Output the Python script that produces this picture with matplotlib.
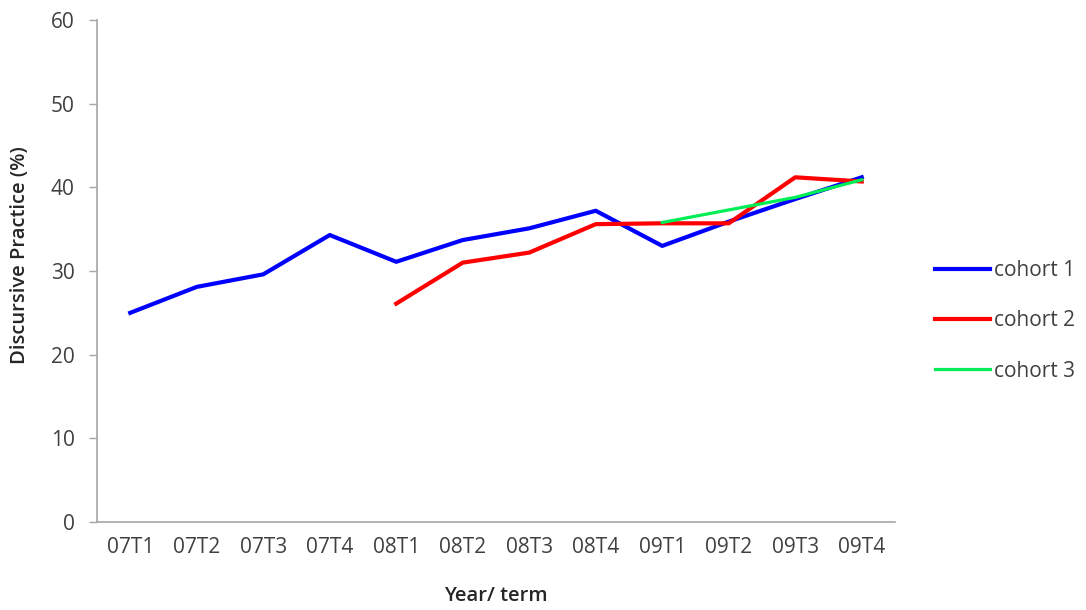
import matplotlib
matplotlib.use("Agg")
import matplotlib.pyplot as plt
import numpy as np

terms = ["07T1", "07T2", "07T3", "07T4", "08T1", "08T2", "08T3", "08T4",
         "09T1", "09T2", "09T3", "09T4"]
cohort1 = [25.0, 28.1, 29.6, 34.3, 31.1, 33.7, 35.1, 37.2, 33.0, 35.9, 38.6, 41.2]
cohort2 = [None, None, None, None, 26.1, 31.0, 32.2, 35.6, 35.7, 35.7, 41.2, 40.7]
cohort3 = [None, None, None, None, None, None, None, None, 35.8, 37.3, 38.8, 40.9]
yticks = [0, 10, 20, 30, 40, 50, 60]

plt.rcParams['font.family'] = ['Open Sans', 'DejaVu Sans']

fig = plt.figure(figsize=(10.86, 6.10), dpi=100)
ax = fig.add_axes([97/1086, 88/610, 798/1086, 502/610])

x = np.arange(len(terms))
def arr(v):
    return np.array([np.nan if a is None else a for a in v], dtype=float)

ax.plot(x, arr(cohort1), color="#0000ff", lw=3.0, label="cohort 1", solid_joinstyle='round')
ax.plot(x, arr(cohort2), color="#ff0000", lw=3.0, label="cohort 2", solid_joinstyle='round')
ax.plot(x, arr(cohort3), color="#00ee55", lw=2.3, label="cohort 3", solid_joinstyle='round')

ax.set_xlim(-0.5, len(terms) - 0.5)
ax.set_ylim(0, 60)
ax.set_yticks(yticks)
ax.set_xticks(x)
ax.set_xticklabels(terms)

for s in ["top", "right"]:
    ax.spines[s].set_visible(False)
for s in ["left", "bottom"]:
    ax.spines[s].set_color("#a6a6a6")
    ax.spines[s].set_linewidth(1.2)

ax.tick_params(axis='y', length=6, width=1.0, color="#a6a6a6", labelsize=15,
               labelcolor="#404040", pad=10)
ax.tick_params(axis='x', length=0, labelsize=15, labelcolor="#404040", pad=11)

ax.set_ylabel("Discursive Practice (%)", fontsize=14.5, fontweight='semibold',
              color="#262626")
ax.yaxis.set_label_coords(-0.084, 0.532)
ax.set_xlabel("Year/ term", fontsize=14.5, fontweight='semibold', color="#262626",
              labelpad=20)

leg = fig.legend(loc='center left', bbox_to_anchor=(935/1086, (610-321)/610),
                 frameon=False, fontsize=15, handlelength=2.65, handletextpad=0.2,
                 labelspacing=1.4, labelcolor="#404040", borderpad=0,
                 borderaxespad=0)

fig.savefig("out.png", dpi=100)
